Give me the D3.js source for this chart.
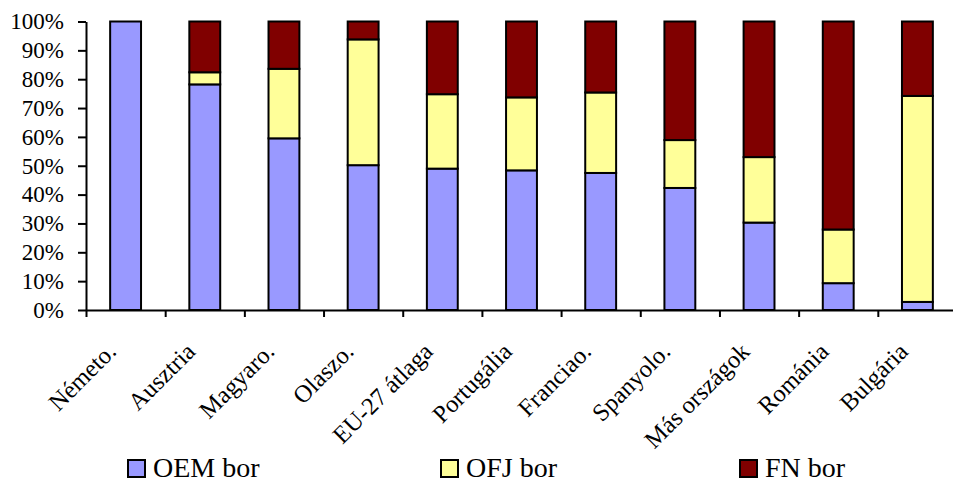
<!DOCTYPE html>
<html>
<head>
<meta charset="utf-8">
<script src="https://cdn.jsdelivr.net/npm/d3@7/dist/d3.min.js"></script>
<style>
  html, body { margin: 0; padding: 0; background: #fff; }
  svg { display: block; }
  svg text { font-family: "Liberation Serif", "Times New Roman", serif; }
</style>
</head>
<body>
<svg id="chart" width="953" height="481"></svg>
<script>
const categories = ["Németo.", "Ausztria", "Magyaro.", "Olaszo.", "EU-27 átlaga", "Portugália", "Franciao.", "Spanyolo.", "Más országok", "Románia", "Bulgária"];
const seriesNames = ["OEM bor", "OFJ bor", "FN bor"];
const oemValues = [100, 78.2, 59.5, 50.2, 49.0, 48.4, 47.5, 42.3, 30.3, 9.3, 2.8];
const ofjValues = [0, 4.2, 24.1, 43.6, 25.8, 25.3, 27.9, 16.6, 22.7, 18.6, 71.4];
const fnValues  = [0, 17.6, 16.4, 6.2, 25.2, 26.3, 24.6, 41.1, 47.0, 72.1, 25.8];
const yTicks = [0, 10, 20, 30, 40, 50, 60, 70, 80, 90, 100];
const colors = ["#9999FF", "#FFFF99", "#800000"];

const svg = d3.select("#chart");
const mLeft = 86, mRight = 957, mTop = 21.5, mBottom = 310;
const serif = "Liberation Serif, Times New Roman, serif";

const rows = categories.map((c, i) => ({cat: c, "OEM bor": oemValues[i], "OFJ bor": ofjValues[i], "FN bor": fnValues[i]}));
const stacked = d3.stack().keys(seriesNames)(rows);

const x = d3.scaleBand().domain(categories).range([mLeft, mRight]).paddingInner(0.61).paddingOuter(0.305);
const xb = d3.scaleLinear().domain([0, categories.length]).range([mLeft, mRight]);
const y = d3.scaleLinear().domain([0, 100]).range([mBottom, mTop]);

// bars
svg.append("g").selectAll("g").data(stacked).join("g")
  .attr("fill", (d, i) => colors[i])
  .selectAll("rect").data(d => d.filter(s => s[1] - s[0] > 0)).join("rect")
  .attr("x", d => x(d.data.cat))
  .attr("width", x.bandwidth())
  .attr("y", d => y(d[1]))
  .attr("height", d => y(d[0]) - y(d[1]))
  .attr("stroke", "#000")
  .attr("stroke-width", 2);

// y axis
const yAxis = svg.append("g").attr("transform", `translate(${mLeft},0)`)
  .call(d3.axisLeft(y).tickValues(yTicks).tickFormat(d => d + "%").tickSize(8).tickSizeOuter(0));
yAxis.attr("font-family", serif);
yAxis.select(".domain").attr("stroke", "#000").attr("stroke-width", 2);
yAxis.selectAll(".tick line").attr("stroke", "#000").attr("stroke-width", 2);
yAxis.selectAll(".tick text").attr("x", -22).attr("font-size", 23).attr("fill", "#000")
  .attr("font-family", serif);

// x axis (boundary ticks)
const xAxis = svg.append("g").attr("transform", `translate(0,${mBottom})`)
  .call(d3.axisBottom(xb).tickValues(d3.range(0, categories.length + 1)).tickFormat("").tickSize(7).tickSizeOuter(0));
xAxis.select(".domain").attr("stroke", "#000").attr("stroke-width", 2);
xAxis.selectAll(".tick line").attr("stroke", "#000").attr("stroke-width", 2);

// category labels
svg.append("g").selectAll("text").data(categories).join("text")
  .attr("transform", d => `translate(${x(d) + x.bandwidth() / 2 - 8},${353}) rotate(-45)`)
  .attr("text-anchor", "end")
  .attr("font-size", 24.5)
  .attr("font-family", serif)
  .attr("fill", "#000")
  .text(d => d);

// legend
const legendX = [127, 440, 739];
const lg = svg.append("g").selectAll("g").data(seriesNames).join("g")
  .attr("transform", (d, i) => `translate(${legendX[i]},459)`);
lg.append("rect").attr("x", 1).attr("y", 1).attr("width", 17).attr("height", 17)
  .attr("fill", (d, i) => colors[i]).attr("stroke", "#000").attr("stroke-width", 2);
lg.append("text").attr("x", 26).attr("y", 17.5).attr("font-size", 28)
  .attr("font-family", serif).attr("fill", "#000").text(d => d);
</script>
</body>
</html>
